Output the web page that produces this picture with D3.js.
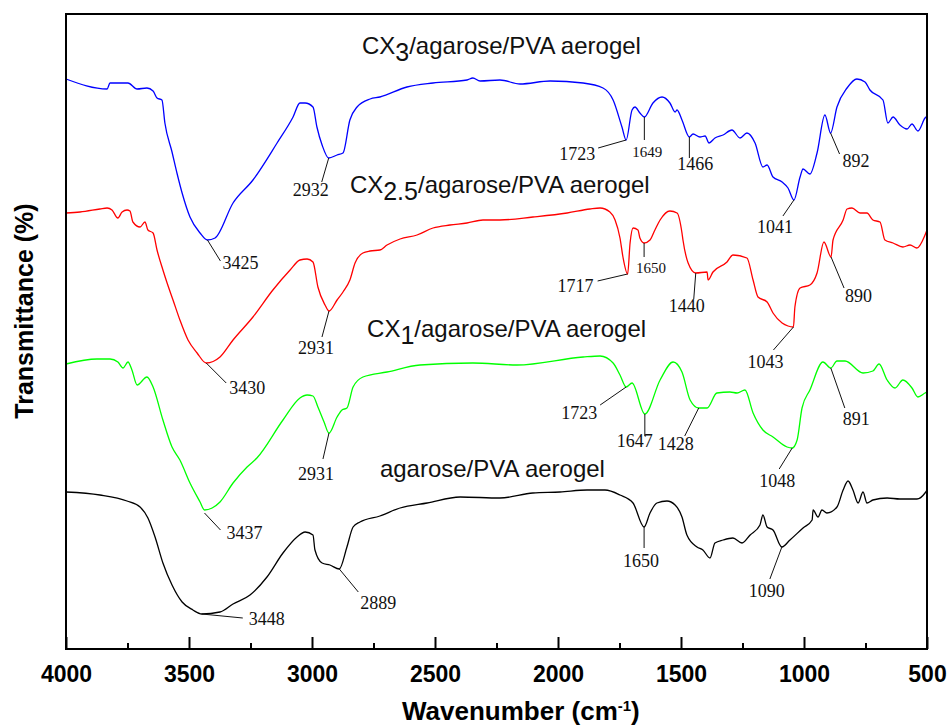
<!DOCTYPE html>
<html><head><meta charset="utf-8">
<script src="https://cdn.jsdelivr.net/npm/d3@7"></script>
<style>body{margin:0;background:#fff}</style>
</head><body><svg id="c" width="948" height="725"></svg>
<script>
// ---------- data (wavenumber cm-1, transmittance a.u.) ----------
const xTicks = [4000,3500,3000,2500,2000,1500,1000,500];
const xMinorTicks = [3750,3250,2750,2250,1750,1250,750];

const cx3 = [[4000,570],[3833,560],[3821,566],[3748,566],[3711,560],[3671,561],[3646,558],[3630,551],[3610,549],[3598,526],[3569,497],[3549,476],[3528,456],[3496,432],[3455,416],[3425,409],[3394,411],[3321,446],[3240,469],[3142,506],[3077,532],[3049,546],[3028,546],[2996,542],[2980,522],[2959,504],[2932,491],[2898,494],[2874,496],[2846,529],[2817,542],[2764,550],[2724,552],[2614,562],[2508,566],[2370,569],[2346,571],[2317,568],[2236,569],[2154,565],[2032,568],[1898,566],[1817,561],[1776,549],[1740,522],[1723,509],[1699,539],[1687,542],[1667,536],[1649,532],[1614,546],[1577,552],[1545,546],[1524,537],[1516,539],[1496,529],[1466,512],[1451,515],[1423,512],[1402,513],[1386,506],[1362,511],[1329,514],[1293,519],[1260,511],[1232,516],[1199,506],[1167,482],[1150,484],[1126,472],[1089,467],[1065,461],[1041,449],[1016,472],[1004,480],[976,475],[947,496],[915,534],[892,516],[866,542],[825,561],[785,570],[752,567],[732,559],[679,549],[659,526],[638,532],[610,524],[581,520],[561,525],[537,518],[508,531],[500,533]];

const cx25 = [[4000,436],[3943,437],[3862,440],[3833,441],[3813,439],[3789,431],[3772,437],[3752,439],[3740,438],[3728,427],[3699,422],[3679,427],[3667,419],[3646,416],[3630,399],[3606,379],[3589,366],[3565,349],[3537,329],[3504,309],[3467,296],[3430,286],[3374,292],[3321,309],[3240,332],[3159,359],[3089,379],[3049,389],[3020,390],[2996,387],[2976,362],[2947,344],[2931,338],[2898,349],[2874,357],[2846,369],[2825,386],[2793,396],[2764,398],[2724,399],[2695,404],[2642,410],[2573,414],[2508,421],[2439,424],[2370,426],[2305,429],[2236,429],[2102,432],[1963,436],[1870,440],[1829,441],[1789,437],[1768,429],[1748,411],[1736,392],[1717,375],[1707,406],[1695,421],[1675,419],[1667,411],[1650,406],[1626,409],[1606,419],[1585,429],[1545,438],[1516,436],[1496,416],[1492,409],[1471,386],[1440,376],[1394,377],[1390,369],[1370,377],[1313,387],[1289,394],[1232,391],[1207,369],[1187,352],[1150,347],[1126,336],[1089,326],[1065,323],[1043,322],[1037,342],[1016,361],[976,364],[947,376],[919,407],[890,392],[882,409],[841,429],[825,440],[805,441],[772,436],[744,436],[720,429],[691,427],[671,409],[638,406],[598,402],[569,404],[541,401],[508,414],[500,419]];

const cx1 = [[4000,285],[3874,290],[3821,290],[3789,287],[3768,281],[3748,287],[3732,279],[3711,264],[3671,272],[3646,262],[3606,229],[3569,202],[3537,189],[3496,166],[3455,147],[3437,139],[3406,141],[3374,147],[3321,166],[3264,182],[3224,191],[3118,229],[3049,251],[3020,254],[2996,253],[2976,242],[2951,227],[2931,216],[2898,232],[2878,239],[2858,241],[2833,262],[2793,272],[2695,277],[2561,284],[2346,286],[2167,284],[1898,292],[1829,293],[1776,286],[1748,274],[1723,262],[1699,266],[1647,235],[1585,269],[1532,287],[1496,277],[1463,249],[1428,241],[1394,241],[1354,256],[1301,257],[1272,256],[1240,259],[1207,236],[1167,219],[1126,212],[1069,202],[1048,201],[1028,209],[1008,241],[976,259],[923,287],[891,281],[866,288],[833,288],[760,276],[720,278],[695,285],[662,269],[630,261],[598,269],[561,261],[537,252],[508,256],[500,257]];

const agarosePva = [[4000,157],[3862,154],[3752,148],[3699,142],[3667,131],[3638,112],[3606,86],[3569,64],[3528,47],[3484,39],[3448,35],[3374,37],[3321,45],[3252,54],[3183,72],[3118,96],[3061,112],[3028,117],[2996,114],[2988,99],[2959,86],[2927,84],[2889,80],[2858,102],[2833,122],[2805,127],[2724,133],[2642,141],[2532,146],[2398,152],[2236,151],[2102,156],[1992,157],[1882,159],[1809,159],[1748,154],[1695,146],[1650,122],[1626,136],[1598,146],[1557,148],[1524,144],[1496,132],[1476,114],[1435,102],[1411,99],[1382,91],[1362,106],[1329,109],[1289,111],[1252,106],[1219,114],[1179,124],[1167,134],[1150,122],[1126,119],[1090,102],[1057,109],[1004,121],[967,129],[963,139],[943,132],[927,139],[907,136],[866,142],[841,159],[821,168],[801,159],[780,146],[760,157],[744,146],[720,149],[662,151],[610,150],[541,150],[508,156],[500,159]];

const seriesNames = [["CX","3","/agarose/PVA aerogel"],["CX","2.5","/agarose/PVA aerogel"],["CX","1","/agarose/PVA aerogel"],["","","agarose/PVA aerogel"]];
const peakCX3 = [3425,2932,1723,1649,1466,1041,892];
const peakCX25 = [3430,2931,1717,1650,1440,1043,890];
const peakCX1 = [3437,2931,1723,1647,1428,1048,891];
const peakAgarose = [3448,2889,1650,1090];

// ---------- layout ----------
const svg = d3.select("#c");
const L=66, R=927, T=14, B=649;
const x = d3.scaleLinear().domain([4000,500]).range([L,R]);
const y = d3.scaleLinear().domain([0,635]).range([B,T]);

const series = [
  {data:cx3, color:"#0000ff", name:seriesNames[0], peaks:peakCX3, lab:[2797,595]},
  {data:cx25, color:"#ff0000", name:seriesNames[1], peaks:peakCX25, lab:[2846,456]},
  {data:cx1, color:"#00ff00", name:seriesNames[2], peaks:peakCX1, lab:[2776,312]},
  {data:agarosePva, color:"#000000", name:seriesNames[3], peaks:peakAgarose, lab:[2724,172]}
];

// annotation offsets (px) per series, same order as the peak arrays
const annoLayout = [
  [ {dx:13,dy:21,tx:15,ty:29,a:"start"}, {dx:-7,dy:24,tx:-36,ty:38,a:"start"}, {dx:-28,dy:8,tx:-67,ty:20,a:"start"},
    {dx:0,dy:23,tx:3,ty:40,a:"middle",fs:15}, {dx:0,dy:21,tx:6,ty:33,a:"middle"}, {dx:-11,dy:16,tx:-37,ty:33,a:"start"}, {dx:9,dy:21,tx:12,ty:34,a:"start"} ],
  [ {dx:20,dy:20,tx:23,ty:31,a:"start"}, {dx:-7,dy:26,tx:-31,ty:43,a:"start"}, {dx:-30,dy:7,tx:-70,ty:18,a:"start"},
    {dx:0,dy:14,tx:7,ty:30,a:"middle",fs:15}, {dx:-2,dy:26,tx:-9,ty:39,a:"middle"}, {dx:-20,dy:23,tx:-46,ty:41,a:"start"}, {dx:13,dy:31,tx:14,ty:45,a:"start"} ],
  [ {dx:16,dy:17,tx:22,ty:26,a:"start",sy:3}, {dx:-6,dy:26,tx:-31,ty:47,a:"start"}, {dx:-26,dy:18,tx:-65,ty:32,a:"start"},
    {dx:0,dy:22,tx:-10,ty:33,a:"middle"}, {dx:-14,dy:28,tx:-23,ty:42,a:"middle"}, {dx:-13,dy:21,tx:-15,ty:39,a:"middle"}, {dx:14,dy:40,tx:12,ty:57,a:"start"} ],
  [ {dx:41,dy:4,tx:47,ty:11,a:"start"}, {dx:19,dy:23,tx:21,ty:40,a:"start"}, {dx:0,dy:21,tx:-3,ty:40,a:"middle"}, {dx:-12,dy:32,tx:-15,ty:50,a:"middle"} ]
];

// curves
const line = d3.line().x(d=>x(d[0])).y(d=>y(d[1])).curve(d3.curveMonotoneX);
series.forEach(s=>{
  svg.append("path").datum(s.data).attr("d",line)
    .attr("fill","none").attr("stroke",s.color).attr("stroke-width",1.3);
});

// series labels
series.forEach(s=>{
  const t = svg.append("text").attr("x",x(s.lab[0])).attr("y",y(s.lab[1]))
    .attr("font-family","'Liberation Sans', Arial, sans-serif").attr("font-size",24).attr("fill","#111");
  if (s.name[0]) {
    t.append("tspan").text(s.name[0]);
    t.append("tspan").attr("dy",7).attr("font-size",25).text(s.name[1]);
    t.append("tspan").attr("dy",-7).text(s.name[2]);
  } else {
    t.text(s.name[2]);
  }
});

// peak annotations
series.forEach((s,si)=>{
  s.peaks.forEach((p,pi)=>{
    const pt = s.data.reduce((a,b)=>Math.abs(b[0]-p)<Math.abs(a[0]-p)?b:a);
    const lo = annoLayout[si][pi];
    const px = x(p), py = y(pt[1]) + (lo.sy||0);
    svg.append("line").attr("x1",px).attr("y1",py).attr("x2",px+lo.dx).attr("y2",py+lo.dy)
      .attr("stroke","#111").attr("stroke-width",1);
    svg.append("text").attr("x",px+lo.tx).attr("y",py+lo.ty).attr("text-anchor",lo.a)
      .attr("font-family","'Liberation Serif', 'Times New Roman', serif").attr("font-size",lo.fs||18)
      .attr("fill","#111").text(p);
  });
});

// axes
const xAxis = d3.axisBottom(x).tickValues(xTicks).tickSize(-12).tickPadding(17).tickFormat(d3.format("d"));
const gx = svg.append("g").attr("transform",`translate(0,${B})`).call(xAxis);
gx.select(".domain").remove();
gx.selectAll(".tick line").attr("stroke","#000").attr("stroke-width",2);
gx.selectAll(".tick text").attr("font-family","'Liberation Sans', Arial, sans-serif")
  .attr("font-size",23).attr("font-weight","bold").attr("fill","#000");
const xMinor = d3.axisBottom(x).tickValues(xMinorTicks).tickSize(-6).tickFormat("");
const gm = svg.append("g").attr("transform",`translate(0,${B})`).call(xMinor);
gm.select(".domain").remove();
gm.selectAll(".tick line").attr("stroke","#000").attr("stroke-width",2);

// frame
svg.append("rect").attr("x",L).attr("y",T).attr("width",R-L).attr("height",B-T)
  .attr("fill","none").attr("stroke","#000").attr("stroke-width",2);

// axis titles
const xt = svg.append("text").attr("x",402).attr("y",720)
  .attr("font-family","'Liberation Sans', Arial, sans-serif").attr("font-size",26).attr("font-weight","bold").attr("fill","#000");
xt.append("tspan").text("Wavenumber (cm");
xt.append("tspan").attr("dy",-9).attr("font-size",15).text("-1");
xt.append("tspan").attr("dy",9).text(")");

svg.append("text").attr("transform","translate(33,311) rotate(-90)").attr("text-anchor","middle")
  .attr("font-family","'Liberation Sans', Arial, sans-serif").attr("font-size",25).attr("font-weight","bold").attr("fill","#000")
  .text("Transmittance (%)");
</script></body></html>
